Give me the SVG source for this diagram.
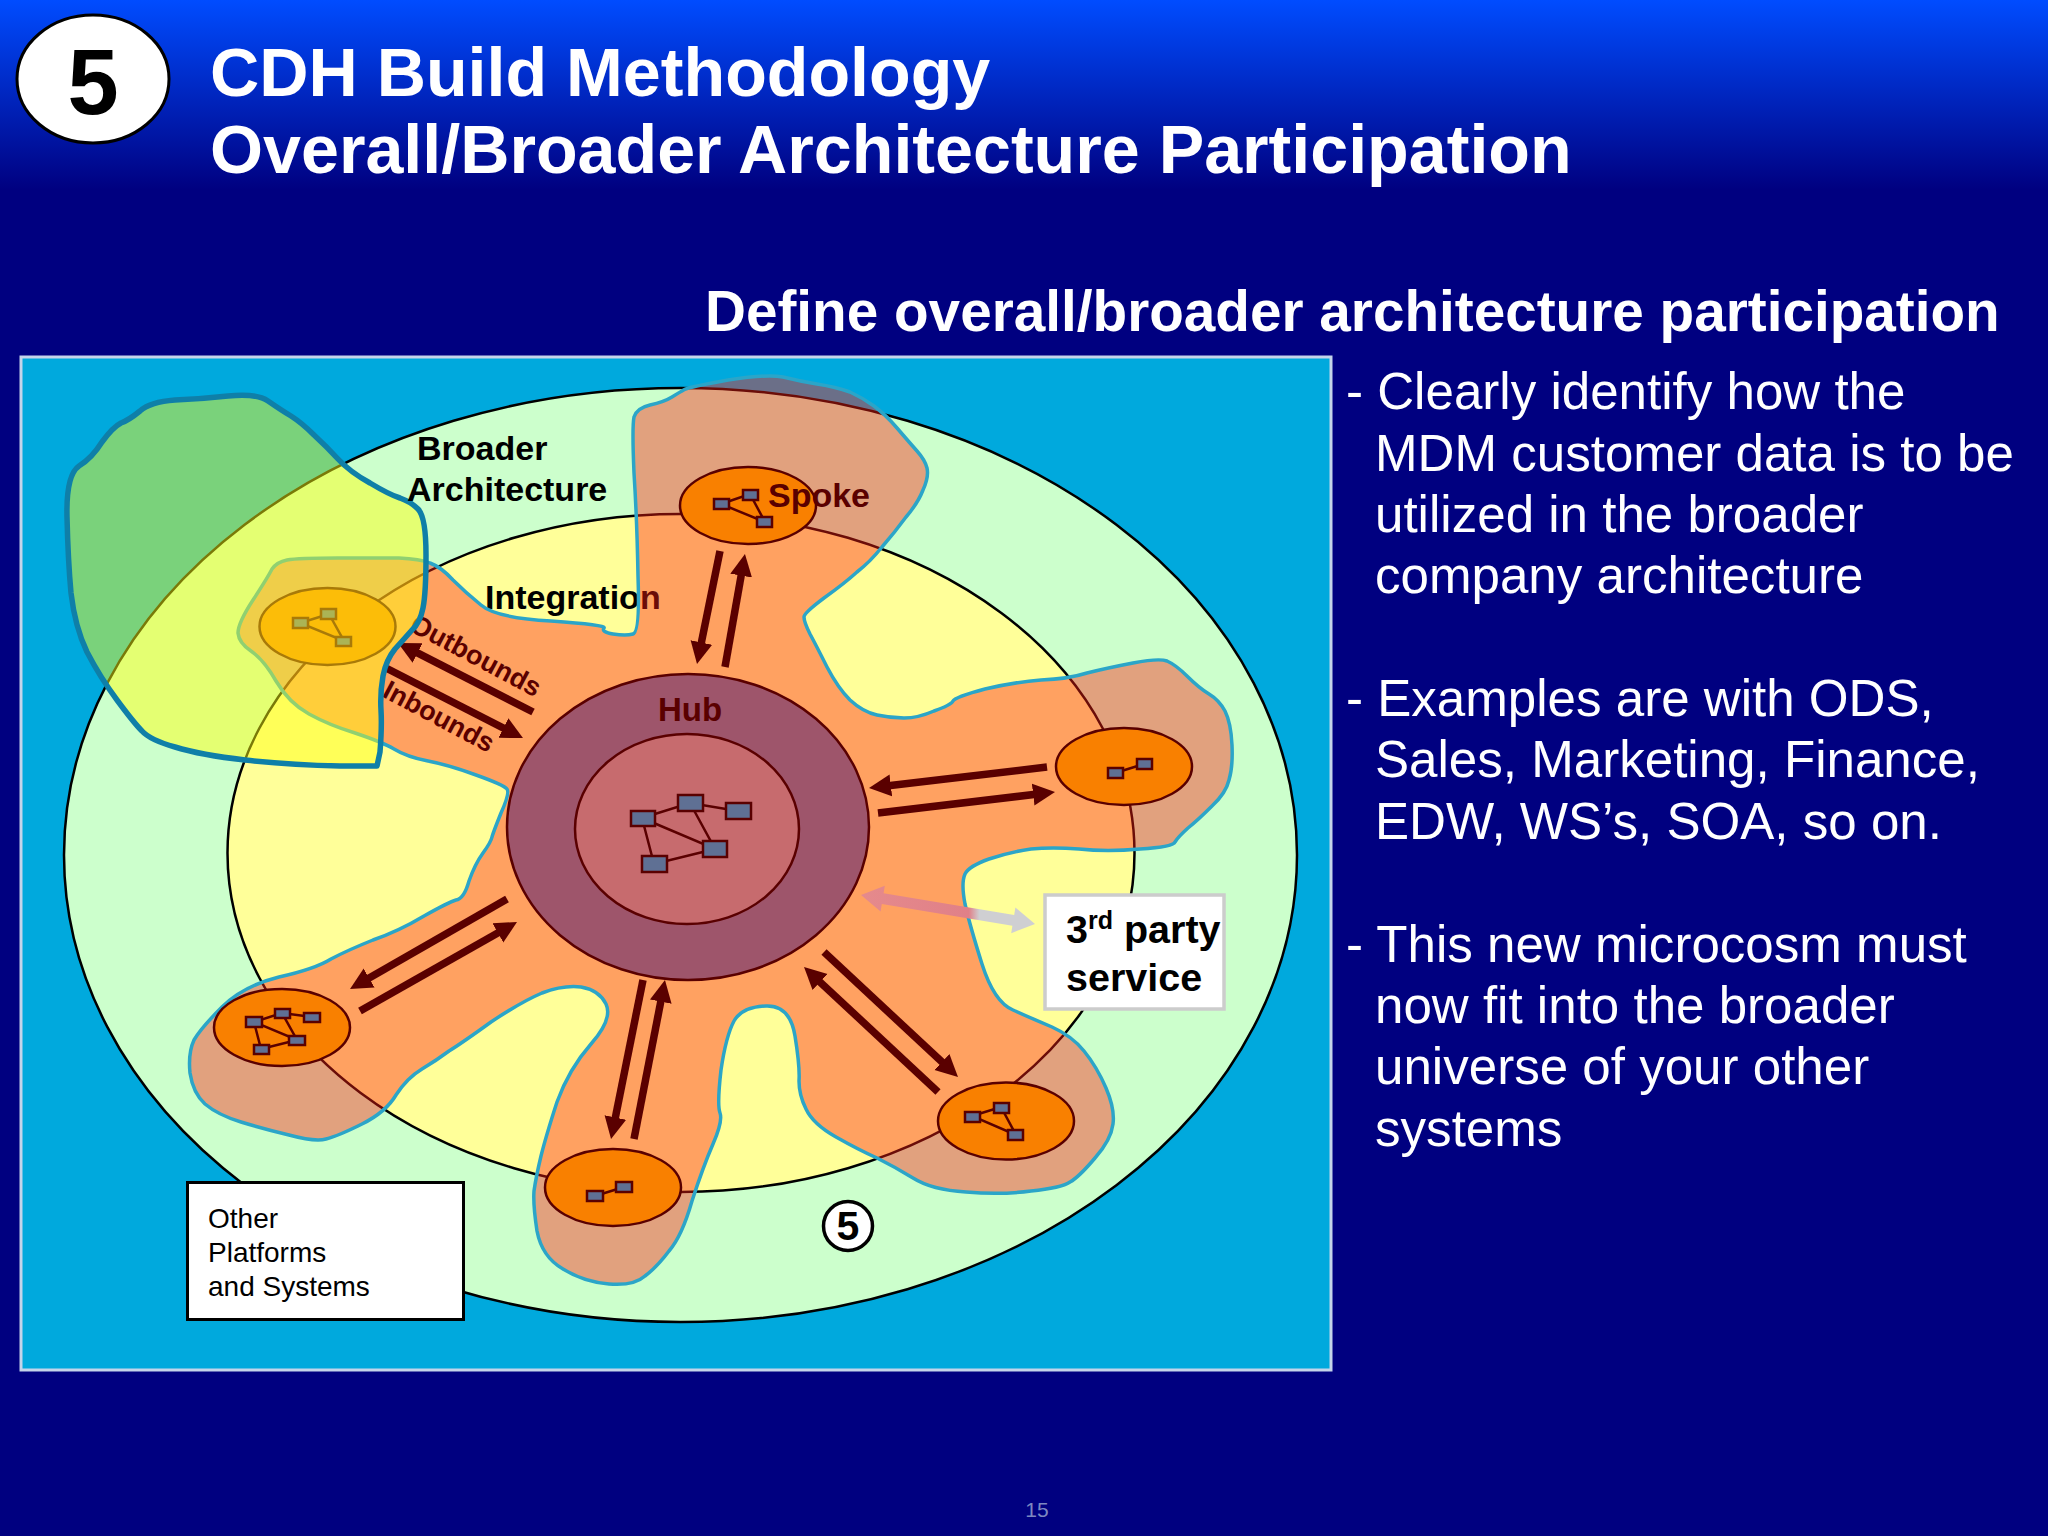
<svg xmlns="http://www.w3.org/2000/svg" width="2048" height="1536" viewBox="0 0 2048 1536">
<style>
text{font-family:"Liberation Sans",Arial,sans-serif}
.t{font-weight:700;fill:#fff}
.b{fill:#fff;font-size:51.1px}
.k{font-weight:700;fill:#000;font-size:34px}
.r{font-weight:700;fill:#5a0000}
.ring{stroke:#000;stroke-width:2.5}
.sp{fill:#f98000;stroke:#5a0000;stroke-width:2.5}
.n{fill:#5f7094;stroke:#5a0000;stroke-width:2.5}
.w{stroke:#5a0000;stroke-width:2.5;fill:none}
.a{stroke:#5a0000;stroke-width:7.5;fill:none;marker-end:url(#head)}
</style>
<defs>
<linearGradient id="bg" gradientUnits="userSpaceOnUse" x1="0" y1="0" x2="0" y2="190"><stop offset="0" stop-color="#004cff"/><stop offset="1" stop-color="#000080"/></linearGradient>
<linearGradient id="dbl" gradientUnits="userSpaceOnUse" x1="861" y1="0" x2="1035" y2="0"><stop offset="0" stop-color="#e58a8c"/><stop offset=".62" stop-color="#e08088"/><stop offset=".68" stop-color="#cfcfd2"/><stop offset="1" stop-color="#cfcfd2"/></linearGradient>
<marker id="head" markerUnits="userSpaceOnUse" markerWidth="28" markerHeight="28" viewBox="0 0 28 28" refX="9" refY="14" orient="auto"><path d="M0,3L22,14L0,25Z" fill="#5a0000"/></marker>
</defs>
<rect width="2048" height="1536" fill="url(#bg)"/>
<g id="badge"><ellipse cx="93" cy="79" rx="76" ry="64" fill="#fff" stroke="#000" stroke-width="3"/><text x="93" y="114" font-size="92" font-weight="700" text-anchor="middle" fill="#000">5</text></g>
<g id="title"><text class="t" x="210" y="96" font-size="68.2">CDH Build Methodology</text><text class="t" x="210" y="173" font-size="68.2">Overall/Broader Architecture Participation</text></g>
<text id="subtitle" class="t" x="705" y="331" font-size="56.7">Define overall/broader architecture participation</text>
<g id="panel"><rect x="21" y="357" width="1310" height="1013" fill="#00a9dd" stroke="#c4d4ea" stroke-width="3"/></g>
<g id="rings">
<ellipse id="broader" class="ring" cx="680.5" cy="855" rx="616.5" ry="467" fill="#ccffcc"/>
<ellipse id="integration" class="ring" cx="681" cy="853" rx="453.5" ry="339" fill="#ffff99"/>
</g>
<text id="label-integration" class="k" x="485" y="609">Integration</text>
<path id="spoke-area" fill="#ff1f14" fill-opacity=".42" stroke="#2ba5c8" stroke-width="3.5" stroke-linejoin="round" d="M684.5,389.5Q689,387 728,380Q767,374 783,377Q799,381 817,384Q836,387 850,392Q863,398 874,406Q886,415 897,428Q909,442 917,451Q925,460 927,468Q929,477 923,490Q918,503 906,517Q895,532 882,547Q870,562 857,572Q845,583 824,598Q804,613 804,617Q804,622 810,634Q817,647 827,667Q838,688 850,700Q863,712 877,715Q891,718 904,718Q918,718 934,711Q951,705 953,701Q955,697 985,689Q1015,682 1041,680Q1068,679 1087,673Q1107,668 1133,663Q1159,658 1167,661Q1176,665 1187,676Q1199,688 1209,694Q1219,700 1225,711Q1231,723 1232,745Q1233,767 1229,780Q1226,793 1212,806Q1198,820 1188,828Q1178,837 1175,842Q1173,847 1140,849Q1107,852 1079,849Q1052,847 1031,849Q1010,852 989,859Q969,866 965,874Q961,883 965,904Q970,926 982,964Q994,1002 1013,1010Q1033,1019 1052,1027Q1072,1036 1084,1051Q1097,1067 1106,1088Q1115,1109 1113,1124Q1111,1140 1095,1158Q1079,1177 1070,1182Q1061,1188 1031,1191Q1001,1195 966,1192Q932,1190 913,1178Q895,1167 877,1158Q859,1150 836,1137Q813,1124 806,1109Q799,1095 799,1081Q800,1067 795,1036Q790,1005 766,1006Q742,1007 734,1021Q726,1036 721,1070Q717,1105 720,1113Q723,1121 713,1144Q703,1167 692,1201Q682,1236 669,1251Q657,1267 645,1276Q634,1286 609,1284Q584,1282 563,1269Q542,1257 537,1231Q533,1205 534,1191Q536,1177 541,1156Q546,1136 557,1102Q569,1069 591,1044Q613,1019 606,1004Q599,990 581,987Q563,985 542,993Q521,1002 491,1022Q462,1043 449,1051Q437,1060 422,1069Q407,1078 396,1095Q386,1112 362,1124Q338,1136 326,1139Q315,1142 289,1135Q264,1129 241,1122Q218,1115 205,1104Q193,1093 190,1073Q188,1053 194,1040Q201,1028 222,1007Q243,986 279,977Q315,969 331,959Q348,950 373,940Q399,931 424,916Q449,902 456,900Q464,899 469,881Q475,864 483,853Q491,842 492,837Q493,833 501,813Q510,793 507,789Q504,785 476,775Q449,765 428,761Q407,757 394,749Q382,742 355,733Q329,725 309,714Q289,703 276,681Q264,660 251,651Q239,643 238,633Q238,623 253,600Q268,577 272,569Q277,562 287,560Q298,558 338,558Q378,558 399,558Q420,559 430,563Q441,567 453,580Q466,593 481,605Q496,618 551,621Q607,625 604,628Q601,632 613,634Q626,636 633,634Q640,632 638,576Q637,520 634,473Q632,427 634,417Q637,408 650,405Q664,402 672,397Q680,392 684.5,389.5Z"/>
<g id="hub">
<ellipse cx="688" cy="827" rx="181" ry="153" fill="#9e556b" stroke="#5a0000" stroke-width="2.5"/>
<ellipse cx="687" cy="829" rx="112" ry="95" fill="#c76b6e" stroke="#5a0000" stroke-width="2.5"/>
<path class="w" d="M642,818L690,803L738,811M642,818L715,849L690,803M642,818L654,864L715,849"/>
<rect class="n" x="631" y="811" width="24" height="15"/><rect class="n" x="678" y="795" width="25" height="16"/><rect class="n" x="726" y="803" width="25" height="16"/><rect class="n" x="703" y="841" width="24" height="16"/><rect class="n" x="642" y="856" width="25" height="16"/>
<text class="r" x="658" y="721" font-size="33">Hub</text>
</g>
<g id="spoke-top"><ellipse class="sp" cx="748" cy="505.5" rx="68" ry="38.5"/><path class="w" d="M721,504L750,494L765,522Z"/><rect class="n" x="714" y="499" width="15" height="10"/><rect class="n" x="743" y="490" width="15" height="10"/><rect class="n" x="757" y="517" width="15" height="10"/><text class="r" x="768" y="507" font-size="34">Spoke</text></g>
<g id="spoke-right"><ellipse class="sp" cx="1124" cy="766.5" rx="68" ry="38.5"/><path class="w" d="M1115,773L1144,764"/><rect class="n" x="1108" y="768" width="15" height="10"/><rect class="n" x="1137" y="759" width="15" height="10"/></g>
<g id="spoke-bottom-right"><ellipse class="sp" cx="1006" cy="1121" rx="68" ry="38.5"/><path class="w" d="M972,1116L1001,1107L1016,1135Z"/><rect class="n" x="965" y="1112" width="15" height="10"/><rect class="n" x="994" y="1103" width="15" height="10"/><rect class="n" x="1008" y="1130" width="15" height="10"/></g>
<g id="spoke-bottom"><ellipse class="sp" cx="613" cy="1187.5" rx="68" ry="38.5"/><path class="w" d="M595,1196L624,1187"/><rect class="n" x="587" y="1191" width="16" height="10"/><rect class="n" x="616" y="1182" width="16" height="10"/></g>
<g id="spoke-bottom-left"><ellipse class="sp" cx="282" cy="1027.5" rx="68" ry="38.5"/><path class="w" d="M254,1022L282,1013L312,1017M254,1022L297,1040L282,1013M254,1022L261,1049L297,1040"/><rect class="n" x="246" y="1017" width="16" height="10"/><rect class="n" x="275" y="1009" width="15" height="9"/><rect class="n" x="304" y="1013" width="16" height="9"/><rect class="n" x="289" y="1036" width="16" height="9"/><rect class="n" x="254" y="1045" width="15" height="9"/></g>
<g id="spoke-upper-left"><ellipse class="sp" cx="327.5" cy="626.5" rx="68" ry="38.5"/><path class="w" d="M300,623L329,614L344,641Z"/><rect class="n" x="293" y="618" width="15" height="10"/><rect class="n" x="321" y="609" width="15" height="10"/><rect class="n" x="336" y="637" width="15" height="9"/></g>
<g id="connectors">
<path class="a" d="M720,551L699.6,651.3"/>
<path class="a" d="M725,667L742.7,566.8"/>
<path class="a" d="M1047,767L881.9,786.5"/>
<path class="a" d="M878,813L1042.1,793.5"/>
<path class="a" d="M824,952L948.5,1068.1"/>
<path class="a" d="M938,1092L813.5,975.9"/>
<path class="a" d="M643,980L613.6,1126.3"/>
<path class="a" d="M634,1139L662.5,992.8"/>
<path class="a" d="M507,899L361.3,982.5"/>
<path class="a" d="M360,1011L505.7,928.4"/>
<path class="a" d="M533,712L409.6,648.9"/>
<path class="a" d="M386,668L511.4,732.1"/>
<polygon id="third-party-link" fill="url(#dbl)" points="861,895 884.8,885.8 883.6,893.2 1014.2,915 1015.4,907.6 1035,924 1011.2,933.2 1012.4,925.8 881.8,904 880.6,911.4"/>
</g>
<g id="arrow-labels">
<text class="r" font-size="27" transform="translate(408,630) rotate(28)">Outbounds</text>
<text class="r" font-size="27" transform="translate(381,696) rotate(28)">Inbounds</text>
</g>
<path id="other-system" fill="#ffff10" fill-opacity=".48" stroke="#0f7fa8" stroke-width="5.5" stroke-linejoin="round" d="M79,466Q92,458 102,442Q113,427 121,423Q129,420 140,411Q150,402 175,400Q201,399 228,396Q256,393 268,401Q281,410 291,416Q302,423 314,435Q327,447 338,459Q350,472 370,483Q390,495 400,498Q411,502 418,509Q426,517 426,555Q426,593 423,608Q420,623 412,630Q405,638 395,649Q386,660 383,676Q380,693 381,710Q382,727 380,752L377,766L340,766Q289,765 245,760Q201,755 175,747Q150,740 142,731Q134,723 117,700Q100,677 87,652Q75,627 71,593Q68,560 67,517Q66,475 79,466Z"/>
<g id="label-broader"><text class="k" x="417" y="460">Broader</text><text class="k" x="407" y="501">Architecture</text></g>
<g id="third-party"><rect x="1045" y="895" width="179" height="114" fill="#fff" stroke="#cccccc" stroke-width="3.5"/><text font-weight="700" font-size="39.5" fill="#000" x="1066" y="943">3<tspan font-size="25" dy="-14">rd</tspan><tspan dy="14"> party</tspan></text><text font-weight="700" font-size="39.5" fill="#000" x="1066" y="991">service</text></g>
<g id="other-platforms"><rect x="187.5" y="1182.5" width="276" height="137" fill="#fff" stroke="#000" stroke-width="3"/><text font-size="28" fill="#000" x="208" y="1228">Other</text><text font-size="28" fill="#000" x="208" y="1262">Platforms</text><text font-size="28" fill="#000" x="208" y="1296">and Systems</text></g>
<g id="step-marker"><ellipse cx="848" cy="1226" rx="24.5" ry="24.5" fill="#fff" stroke="#000" stroke-width="3.5"/><text x="848" y="1240" font-size="41" font-weight="700" text-anchor="middle" fill="#000">5</text></g>
<g id="body">
<text class="b" x="1346" y="409">- Clearly identify how the</text>
<text class="b" x="1375" y="471">MDM customer data is to be</text>
<text class="b" x="1375" y="532">utilized in the broader</text>
<text class="b" x="1375" y="593">company architecture</text>
<text class="b" x="1346" y="716">- Examples are with ODS,</text>
<text class="b" x="1375" y="777">Sales, Marketing, Finance,</text>
<text class="b" x="1375" y="839">EDW, WS’s, SOA, so on.</text>
<text class="b" x="1346" y="962">- This new microcosm must</text>
<text class="b" x="1375" y="1023">now fit into the broader</text>
<text class="b" x="1375" y="1084">universe of your other</text>
<text class="b" x="1375" y="1146">systems</text>
</g>
<text id="page" x="1037" y="1517" font-size="21" text-anchor="middle" fill="#7d88c0">15</text>
</svg>
